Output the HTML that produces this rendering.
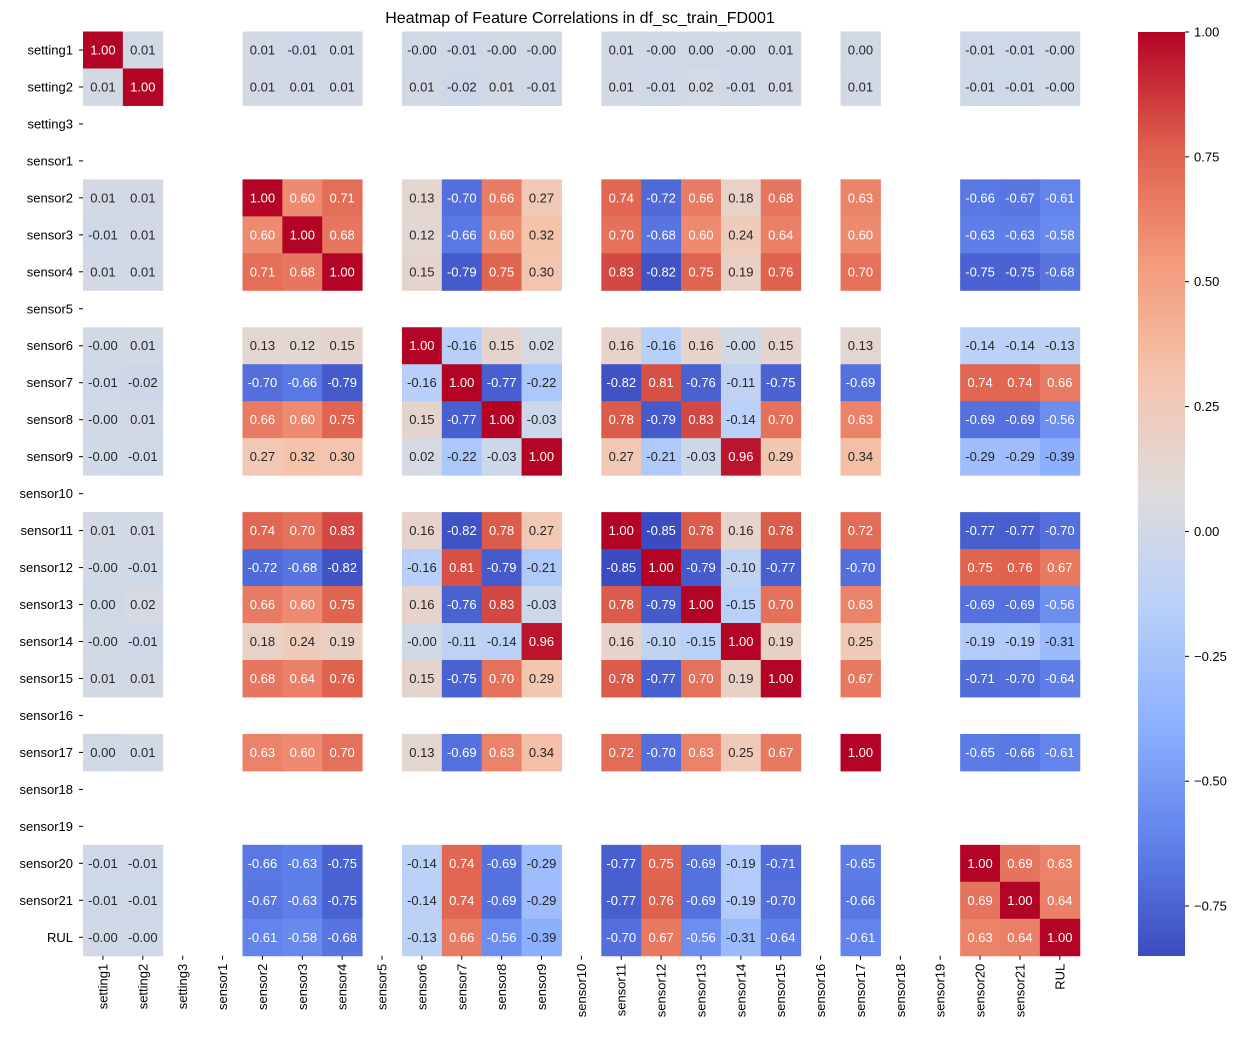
<!DOCTYPE html>
<html><head><meta charset="utf-8"><style>
body{margin:0;background:#fff;font-family:"Liberation Sans",sans-serif;}
</style></head><body>
<svg id="chart" width="1245" height="1039" xmlns="http://www.w3.org/2000/svg" font-family="Liberation Sans, sans-serif"></svg>
<script>
const labels=["setting1","setting2","setting3","sensor1","sensor2","sensor3","sensor4","sensor5","sensor6","sensor7","sensor8","sensor9","sensor10","sensor11","sensor12","sensor13","sensor14","sensor15","sensor16","sensor17","sensor18","sensor19","sensor20","sensor21","RUL"];
const validVars=["setting1","setting2","sensor2","sensor3","sensor4","sensor6","sensor7","sensor8","sensor9","sensor11","sensor12","sensor13","sensor14","sensor15","sensor17","sensor20","sensor21","RUL"];
const corr=[
[1,0.01,0.01,-0.01,0.01,-0.001,-0.01,-0.001,-0.001,0.01,-0.001,0.001,-0.001,0.01,0.001,-0.01,-0.01,-0.001],
[0.01,1,0.01,0.01,0.01,0.01,-0.02,0.01,-0.01,0.01,-0.01,0.02,-0.01,0.01,0.01,-0.01,-0.01,-0.001],
[0.01,0.01,1,0.60,0.71,0.13,-0.70,0.66,0.27,0.74,-0.72,0.66,0.18,0.68,0.63,-0.66,-0.67,-0.61],
[-0.01,0.01,0.60,1,0.68,0.12,-0.66,0.60,0.32,0.70,-0.68,0.60,0.24,0.64,0.60,-0.63,-0.63,-0.58],
[0.01,0.01,0.71,0.68,1,0.15,-0.79,0.75,0.30,0.83,-0.82,0.75,0.19,0.76,0.70,-0.75,-0.75,-0.68],
[-0.001,0.01,0.13,0.12,0.15,1,-0.16,0.15,0.02,0.16,-0.16,0.16,-0.001,0.15,0.13,-0.14,-0.14,-0.13],
[-0.01,-0.02,-0.70,-0.66,-0.79,-0.16,1,-0.77,-0.22,-0.82,0.81,-0.76,-0.11,-0.75,-0.69,0.74,0.74,0.66],
[-0.001,0.01,0.66,0.60,0.75,0.15,-0.77,1,-0.03,0.78,-0.79,0.83,-0.14,0.70,0.63,-0.69,-0.69,-0.56],
[-0.001,-0.01,0.27,0.32,0.30,0.02,-0.22,-0.03,1,0.27,-0.21,-0.03,0.96,0.29,0.34,-0.29,-0.29,-0.39],
[0.01,0.01,0.74,0.70,0.83,0.16,-0.82,0.78,0.27,1,-0.85,0.78,0.16,0.78,0.72,-0.77,-0.77,-0.70],
[-0.001,-0.01,-0.72,-0.68,-0.82,-0.16,0.81,-0.79,-0.21,-0.85,1,-0.79,-0.10,-0.77,-0.70,0.75,0.76,0.67],
[0.001,0.02,0.66,0.60,0.75,0.16,-0.76,0.83,-0.03,0.78,-0.79,1,-0.15,0.70,0.63,-0.69,-0.69,-0.56],
[-0.001,-0.01,0.18,0.24,0.19,-0.001,-0.11,-0.14,0.96,0.16,-0.10,-0.15,1,0.19,0.25,-0.19,-0.19,-0.31],
[0.01,0.01,0.68,0.64,0.76,0.15,-0.75,0.70,0.29,0.78,-0.77,0.70,0.19,1,0.67,-0.71,-0.70,-0.64],
[0.001,0.01,0.63,0.60,0.70,0.13,-0.69,0.63,0.34,0.72,-0.70,0.63,0.25,0.67,1,-0.65,-0.66,-0.61],
[-0.01,-0.01,-0.66,-0.63,-0.75,-0.14,0.74,-0.69,-0.29,-0.77,0.75,-0.69,-0.19,-0.71,-0.65,1,0.69,0.63],
[-0.01,-0.01,-0.67,-0.63,-0.75,-0.14,0.74,-0.69,-0.29,-0.77,0.76,-0.69,-0.19,-0.70,-0.66,0.69,1,0.64],
[-0.001,-0.001,-0.61,-0.58,-0.68,-0.13,0.66,-0.56,-0.39,-0.70,0.67,-0.56,-0.31,-0.64,-0.61,0.63,0.64,1]];
const cbTicks=[1,0.75,0.5,0.25,0,-0.25,-0.5,-0.75];
const cbTickLabels=["1.00","0.75","0.50","0.25","0.00","\u22120.25","\u22120.50","\u22120.75"];
const vmin=-0.85,vmax=1;

const NS="http://www.w3.org/2000/svg";
const svg=document.getElementById('chart');
function mk(t,a,p){const e=document.createElementNS(NS,t);for(const k in a)e.setAttribute(k,a[k]);(p||svg).appendChild(e);return e;}
const L=83,T=31.5,CW=39.87,CH=36.97;
const xS=i=>L+i*CW, yS=i=>T+i*CH;
const stops=[[59,76,192],[97,130,234],[141,176,254],[184,208,249],[221,220,220],[245,196,173],[244,154,123],[222,96,77],[180,4,38]];
function cmap(v){let t=Math.max(0,Math.min(1,(v-vmin)/(vmax-vmin)))*8;let i=Math.min(7,Math.floor(t)),f=t-i;
 return stops[i].map((c,k)=>Math.round(c+(stops[i+1][k]-c)*f));}
function lum(c){const l=c.map(x=>{x/=255;return x<=0.03928?x/12.92:Math.pow((x+0.055)/1.055,2.4)});return 0.2126*l[0]+0.7152*l[1]+0.0722*l[2];}

const title=mk('text',{x:580,y:23,'text-anchor':'middle','font-size':16,fill:'#000'});


title.textContent="Heatmap of Feature Correlations in df_sc_train_FD001";

const cells=mk('g',{});


labels.forEach((rl,r)=>{labels.forEach((cl,c)=>{
 const ri=validVars.indexOf(rl),ci=validVars.indexOf(cl);
 if(ri<0||ci<0)return;
 const v=corr[ri][ci];const col=cmap(v);
 const rect=mk('rect',{x:xS(c),y:yS(r),width:CW+0.5,height:CH+0.5,fill:`rgb(${col})`},cells);
 
 
 const tx=mk('text',{x:xS(c)+CW/2,y:yS(r)+CH/2+4.5,'text-anchor':'middle','font-size':13,fill:lum(col)>0.408?'#262626':'#fff'},cells);
 
 
 tx.textContent=v.toFixed(2);
});});

labels.forEach((l,i)=>{
 const y=yS(i)+CH/2;
 mk('line',{x1:L-4,x2:L,y1:y,y2:y,stroke:'#000','stroke-width':1});
 const t=mk('text',{x:L-10,y:y+4.5,'text-anchor':'end','font-size':13,fill:'#000'});
 
 
 t.textContent=l;
 const x=xS(i)+CW/2,B=T+25*CH;
 mk('line',{x1:x,x2:x,y1:B,y2:B+4,stroke:'#000','stroke-width':1});
 const t2=mk('text',{x:0,y:0,'text-anchor':'end','font-size':13,fill:'#000',transform:`translate(${x+4.5},${B+8}) rotate(-90)`});
 
 
 t2.textContent=l;
});

// colorbar
const cbX=1138,cbW=47,cbT=32,cbB=956;
const cbY=v=>cbB-(v-vmin)/(vmax-vmin)*(cbB-cbT);
const defs=mk('defs',{});
const grad=mk('linearGradient',{id:'cg',x1:0,y1:1,x2:0,y2:0},defs);
stops.forEach((s,i)=>mk('stop',{offset:i/8,'stop-color':`rgb(${s})`},grad));
const cb=mk('rect',{x:cbX,y:cbT,width:cbW,height:cbB-cbT,fill:'url(#cg)'});


cbTicks.forEach((v,i)=>{
 const y=cbY(v);
 mk('line',{x1:cbX+cbW,x2:cbX+cbW+4,y1:y,y2:y,stroke:'#000','stroke-width':1});
 const t=mk('text',{x:cbX+cbW+9,y:y+4.5,'font-size':13,fill:'#000'});
 
 
 t.textContent=cbTickLabels[i];
});
</script>
</body></html>
